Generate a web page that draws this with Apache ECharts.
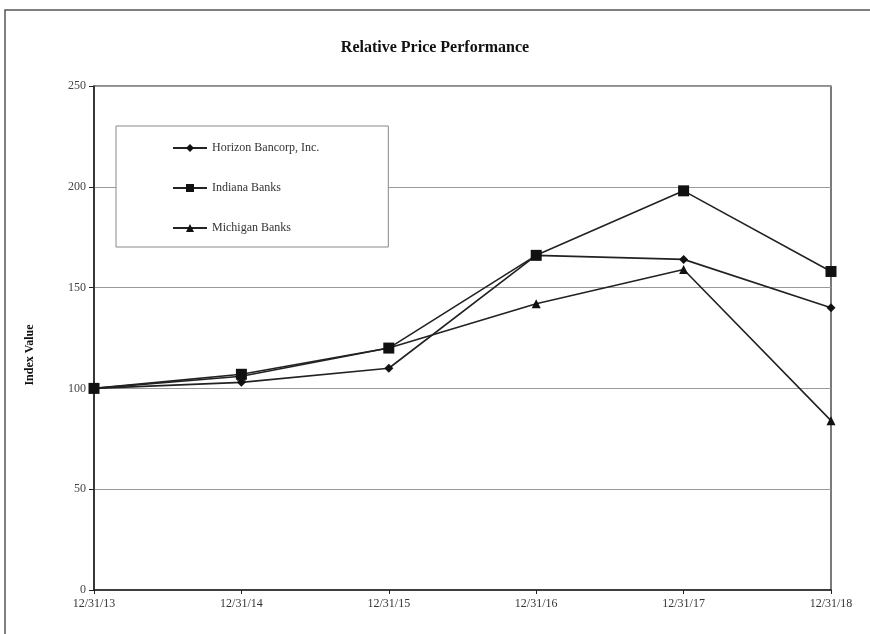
<!DOCTYPE html>
<html>
<head>
<meta charset="utf-8">
<script src="https://cdn.jsdelivr.net/npm/echarts@6/dist/echarts.min.js"></script>
<style>html,body{margin:0;padding:0;background:#fff;}#c{width:870px;height:634px;}</style>
</head>
<body>
<div id="c"></div>
<script>
const categories = ['12/31/13', '12/31/14', '12/31/15', '12/31/16', '12/31/17', '12/31/18'];
const horizon = [100, 103, 110, 166, 164, 140];
const indiana = [100, 107, 120, 166, 198, 158];
const michigan = [100, 106, 120, 142, 159, 84];
const yTicks = [0, 50, 100, 150, 200, 250];

const chart = echarts.init(document.getElementById('c'));
const serif = "'Liberation Serif', 'DejaVu Serif', serif";
function line(name, data, symbol, size) {
  return {
    name: name, type: 'line', data: data, symbol: symbol, symbolSize: size,
    itemStyle: {color: '#111'}, lineStyle: {color: '#222', width: 1.6},
    animation: false
  };
}
chart.setOption({
  backgroundColor: '#fff',
  animation: false,
  graphic: [{type: 'rect', shape: {x: 5, y: 10, width: 880, height: 640}, style: {fill: 'none', stroke: '#555', lineWidth: 1.5}, silent: true}],
  title: {text: 'Relative Price Performance', left: 'center', top: 35,
    textStyle: {fontFamily: serif, fontSize: 16, fontWeight: 'bold', color: '#111'}},
  legend: {
    orient: 'vertical', left: 116, top: 126,
    padding: [16, 69, 13, 56], itemGap: 28, itemWidth: 34, itemHeight: 10,
    backgroundColor: '#fff', borderColor: '#888', borderWidth: 1,
    textStyle: {fontFamily: serif, fontSize: 12, color: '#333'},
    data: ['Horizon Bancorp, Inc.', 'Indiana Banks', 'Michigan Banks']
  },
  grid: {left: 94, right: 39, top: 86, bottom: 44, show: true, borderColor: '#222', borderWidth: 1.2},
  xAxis: {
    type: 'category', data: categories, boundaryGap: false,
    axisLine: {lineStyle: {color: '#222', width: 1.5}},
    axisTick: {show: true, alignWithLabel: true, length: 4, inside: false, lineStyle: {color: '#222'}},
    axisLabel: {fontFamily: serif, fontSize: 12, color: '#333', margin: 8},
    splitLine: {show: false}
  },
  yAxis: {
    type: 'value', min: 0, max: 250, interval: 50,
    name: 'Index Value', nameLocation: 'middle', nameGap: 58, nameRotate: 90,
    nameTextStyle: {fontFamily: serif, fontSize: 12, fontWeight: 'bold', color: '#111', padding: [0, 34, 0, 0]},
    axisLine: {show: true, lineStyle: {color: '#222', width: 1.5}},
    axisTick: {show: true, length: 5, lineStyle: {color: '#222'}},
    axisLabel: {fontFamily: serif, fontSize: 12, color: '#444', margin: 8},
    splitLine: {show: true, lineStyle: {color: '#999', width: 1.2}}
  },
  series: [
    line('Horizon Bancorp, Inc.', horizon, 'diamond', 9),
    line('Indiana Banks', indiana, 'rect', 11),
    line('Michigan Banks', michigan, 'triangle', 9)
  ]
});
</script>
</body>
</html>
